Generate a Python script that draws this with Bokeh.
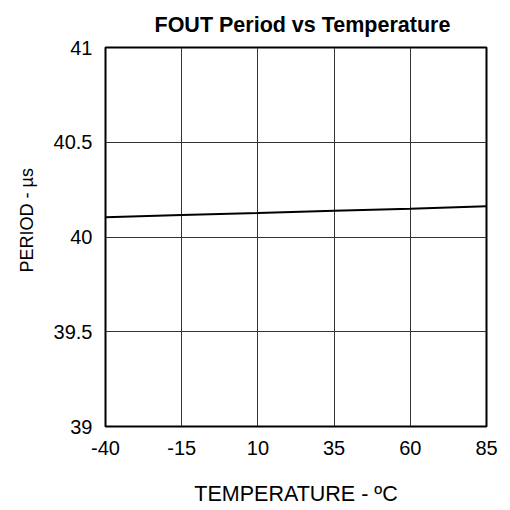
from bokeh.plotting import figure
from bokeh.embed import file_html
from bokeh.resources import INLINE
from bokeh.models import FixedTicker, Range1d, Title

temperature = [-40, -15, 10, 35, 60, 85]
period_us = [40.104, 40.116, 40.126, 40.138, 40.149, 40.162]
x_ticks = [-40, -15, 10, 35, 60, 85]
x_tick_labels = ["-40", "-15", "10", "35", "60", "85"]
y_ticks = [39, 39.5, 40, 40.5, 41]
y_tick_labels = ["39", "39.5", "40", "40.5", "41"]

FONT = "Liberation Sans"

p = figure(width=510, height=510, output_backend="svg", toolbar_location=None,
           x_range=Range1d(-40, 85), y_range=Range1d(39, 41),
           min_border_left=104, min_border_right=24, min_border_top=46, min_border_bottom=84)

title = Title(text="FOUT Period vs Temperature", align="left", offset=49,
              text_font=FONT, text_font_size="21.5px", text_font_style="bold",
              text_color="black", standoff=21)
p.add_layout(title, "above")

ylab = Title(text="PERIOD - \u00b5s", align="left", offset=154,
             text_font=FONT, text_font_size="18px", text_font_style="normal",
             text_color="black", standoff=28)
p.add_layout(ylab, "left")

p.line(temperature, period_us, line_color="black", line_width=2)

p.outline_line_color = "black"
p.outline_line_width = 2
p.outline_line_alpha = 1

for ax in (p.xaxis[0], p.yaxis[0]):
    ax.axis_line_color = None
    ax.major_tick_line_color = None
    ax.minor_tick_line_color = None
    ax.major_label_text_font = FONT
    ax.major_label_text_font_size = "20px"
    ax.major_label_text_color = "black"
    ax.axis_label_text_font = FONT
    ax.axis_label_text_font_size = "21.5px"
    ax.axis_label_text_font_style = "normal"
    ax.axis_label_text_color = "black"

p.xaxis.ticker = FixedTicker(ticks=x_ticks)
p.yaxis.ticker = FixedTicker(ticks=y_ticks)
p.xaxis.major_label_overrides = dict(zip(x_ticks, x_tick_labels))
p.yaxis.major_label_overrides = dict(zip(y_ticks, y_tick_labels))
p.xaxis.axis_label = "TEMPERATURE - \u00baC"
p.xaxis.major_label_standoff = 8
p.xaxis.axis_label_standoff = 24
p.yaxis.major_label_standoff = 7

p.xgrid.ticker = FixedTicker(ticks=x_ticks)
p.ygrid.ticker = FixedTicker(ticks=y_ticks)
p.grid.grid_line_color = "#333333"
p.grid.grid_line_width = 1
p.grid.grid_line_alpha = 1

p.background_fill_color = "white"
p.border_fill_color = "white"

open("out.html", "w").write(file_html(p, INLINE))
